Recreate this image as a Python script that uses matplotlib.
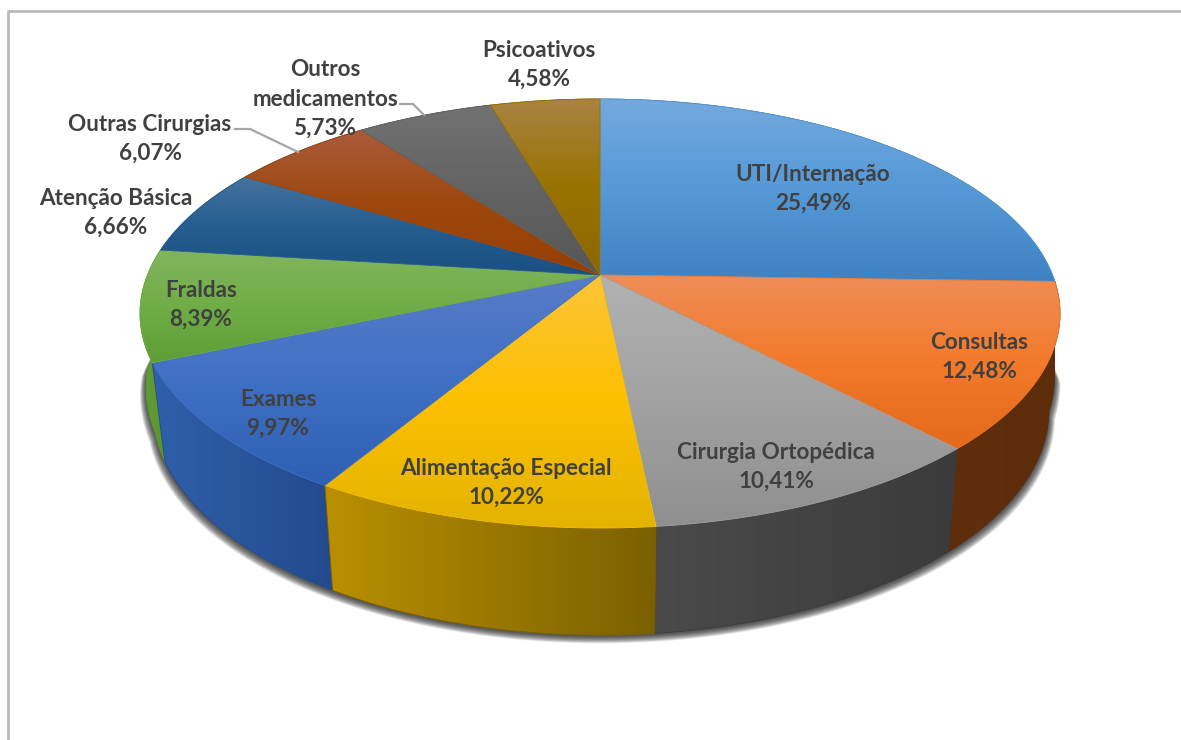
import numpy as np
import matplotlib
matplotlib.use('Agg')
import matplotlib.pyplot as plt
from matplotlib.colors import LinearSegmentedColormap
from matplotlib.patches import Polygon

plt.rcParams['font.family'] = ['Lato', 'DejaVu Sans']

# data
categorias = ['UTI/Internação', 'Consultas', 'Cirurgia Ortopédica', 'Alimentação Especial', 'Exames',
              'Fraldas', 'Atenção Básica', 'Outras Cirurgias', 'Outros\nmedicamentos', 'Psicoativos']
valores = [25.49, 12.48, 10.41, 10.22, 9.97, 8.39, 6.66, 6.07, 5.73, 4.58]

# top face gradient (light, base, dark) per slice
cores_topo = [('#74a9de', '#5599d6', '#3f82c4'), ('#ee8d58', '#f37a2a', '#e4691a'),
              ('#b2b2b2', '#a2a2a2', '#8f8f8f'), ('#fdc43a', '#fcc000', '#e3b300'),
              ('#587cc8', '#4070c4', '#2e5fb2'), ('#82b55e', '#70ad47', '#5e9e36'),
              ('#47729d', '#255e91', '#1a4f82'), ('#aa5b3c', '#9e480e', '#953f03'),
              ('#727272', '#636363', '#565656'), ('#a98343', '#997300', '#8a6700')]
# wall gradient (left, right) per slice
cores_lado = [('#2d5f8a', '#2d5f8a'), ('#5f2f0d', '#5c2c0b'), ('#4a4a4a', '#3b3b3b'),
              ('#ba9000', '#7a6000'), ('#2f60aa', '#234a8d'), ('#639f38', '#5a952f'),
              ('#1a4f82', '#1a4f82'), ('#6b3009', '#6b3009'), ('#444444', '#444444'), ('#665000', '#665000')]

pos_rotulos = [(813, 189), (979, 357), (776, 467), (506, 483), (278, 414),
               (201, 305), (116, 213), (150, 139), (325, 99), (539, 65)]

linhas_guia = [([235, 250, 298], [129, 129, 152]), ([400, 413, 424], [104, 104, 115])]


# perspective projection of the pie circle, theta clockwise from the top
def topo(theta):
    u, v = np.sin(theta), np.cos(theta)
    w = 1 + 0.1795 * v
    return 600 + 452.5 * u / w, 275 - 207.6 * v / w


def base(theta):
    x, y = topo(theta)
    v = np.cos(theta)
    esc = np.where(x > 600, np.clip(1.004 + 0.15 * v, 0.976, 1), np.clip(1 + 0.1 * v, 0.972, 1))
    return 600 + (x - 600) * esc, 369.4 + (y - 275) * 1.05


def preenche(ax, xs, ys, cores, horizontal=False, z=1):
    pts = np.column_stack([xs, ys])
    cmap = LinearSegmentedColormap.from_list('g', cores)
    grad = np.linspace(0, 1, 256).reshape(-1, 1)
    if horizontal:
        grad = grad.T
    im = ax.imshow(grad, cmap=cmap, vmin=0, vmax=1, aspect='auto', zorder=z, interpolation='bilinear',
                   extent=(xs.min(), xs.max(), ys.max(), ys.min()))
    p = Polygon(pts, closed=True, transform=ax.transData, facecolor='none', edgecolor='none')
    ax.add_patch(p)
    im.set_clip_path(p)
    # thin edge hides the seams left by the clipping
    ax.add_patch(Polygon(pts, closed=True, fill=False, edgecolor=cores[len(cores) // 2], lw=0.6, zorder=z))


fig = plt.figure(figsize=(11.81, 7.40), dpi=100)
ax = fig.add_axes([0, 0, 1, 1])

# chart frame
ax.plot([8, 8, 1181], [740, 11, 11], color='#b9b9b9', lw=2, zorder=0)

# soft shadow under the pie
t = np.linspace(0, 2 * np.pi, 400)
bx, by = base(t)
for i in range(12):
    esc = 1.0 + (12 - i) * 0.0011
    ax.fill(600 + (bx - 600) * esc, by + 1 + (12 - i) * 0.6,
            color='#202020', alpha=0.10, lw=0, zorder=1)

limites = np.concatenate([[0], np.cumsum(valores)]) / 100 * 2 * np.pi
fatias = [(limites[i], limites[i + 1]) for i in range(len(valores))]

# walls, back to front
ordem = sorted(range(len(fatias)), key=lambda i: np.cos(sum(fatias[i]) / 2), reverse=True)
for z, i in enumerate(ordem):
    th = np.linspace(fatias[i][0], fatias[i][1], 120)
    x1, y1 = topo(th)
    x2, y2 = base(th)
    preenche(ax, np.concatenate([x1, x2[::-1]]), np.concatenate([y1, y2[::-1]]),
             cores_lado[i], horizontal=True, z=2 + z * 0.01)

# top faces
for i, (a, b) in enumerate(fatias):
    th = np.linspace(a, b, 120)
    x, y = topo(th)
    preenche(ax, np.append(x, 600.0), np.append(y, 275.0), cores_topo[i], z=3 + i * 0.01)

for xs, ys in linhas_guia:
    ax.plot(xs, ys, color='#a6a6a6', lw=1.6, zorder=4)

for nome, valor, (x, y) in zip(categorias, valores, pos_rotulos):
    rotulo = nome + '\n' + ('%.2f%%' % valor).replace('.', ',')
    ax.text(x, y, rotulo, ha='center', va='center', fontsize=16.2, fontweight='bold',
            color='#404040', linespacing=1.48, zorder=5)

ax.set_xlim(0, 1181)
ax.set_ylim(740, 0)
ax.axis('off')
fig.savefig('out.png', dpi=100, facecolor='white')
